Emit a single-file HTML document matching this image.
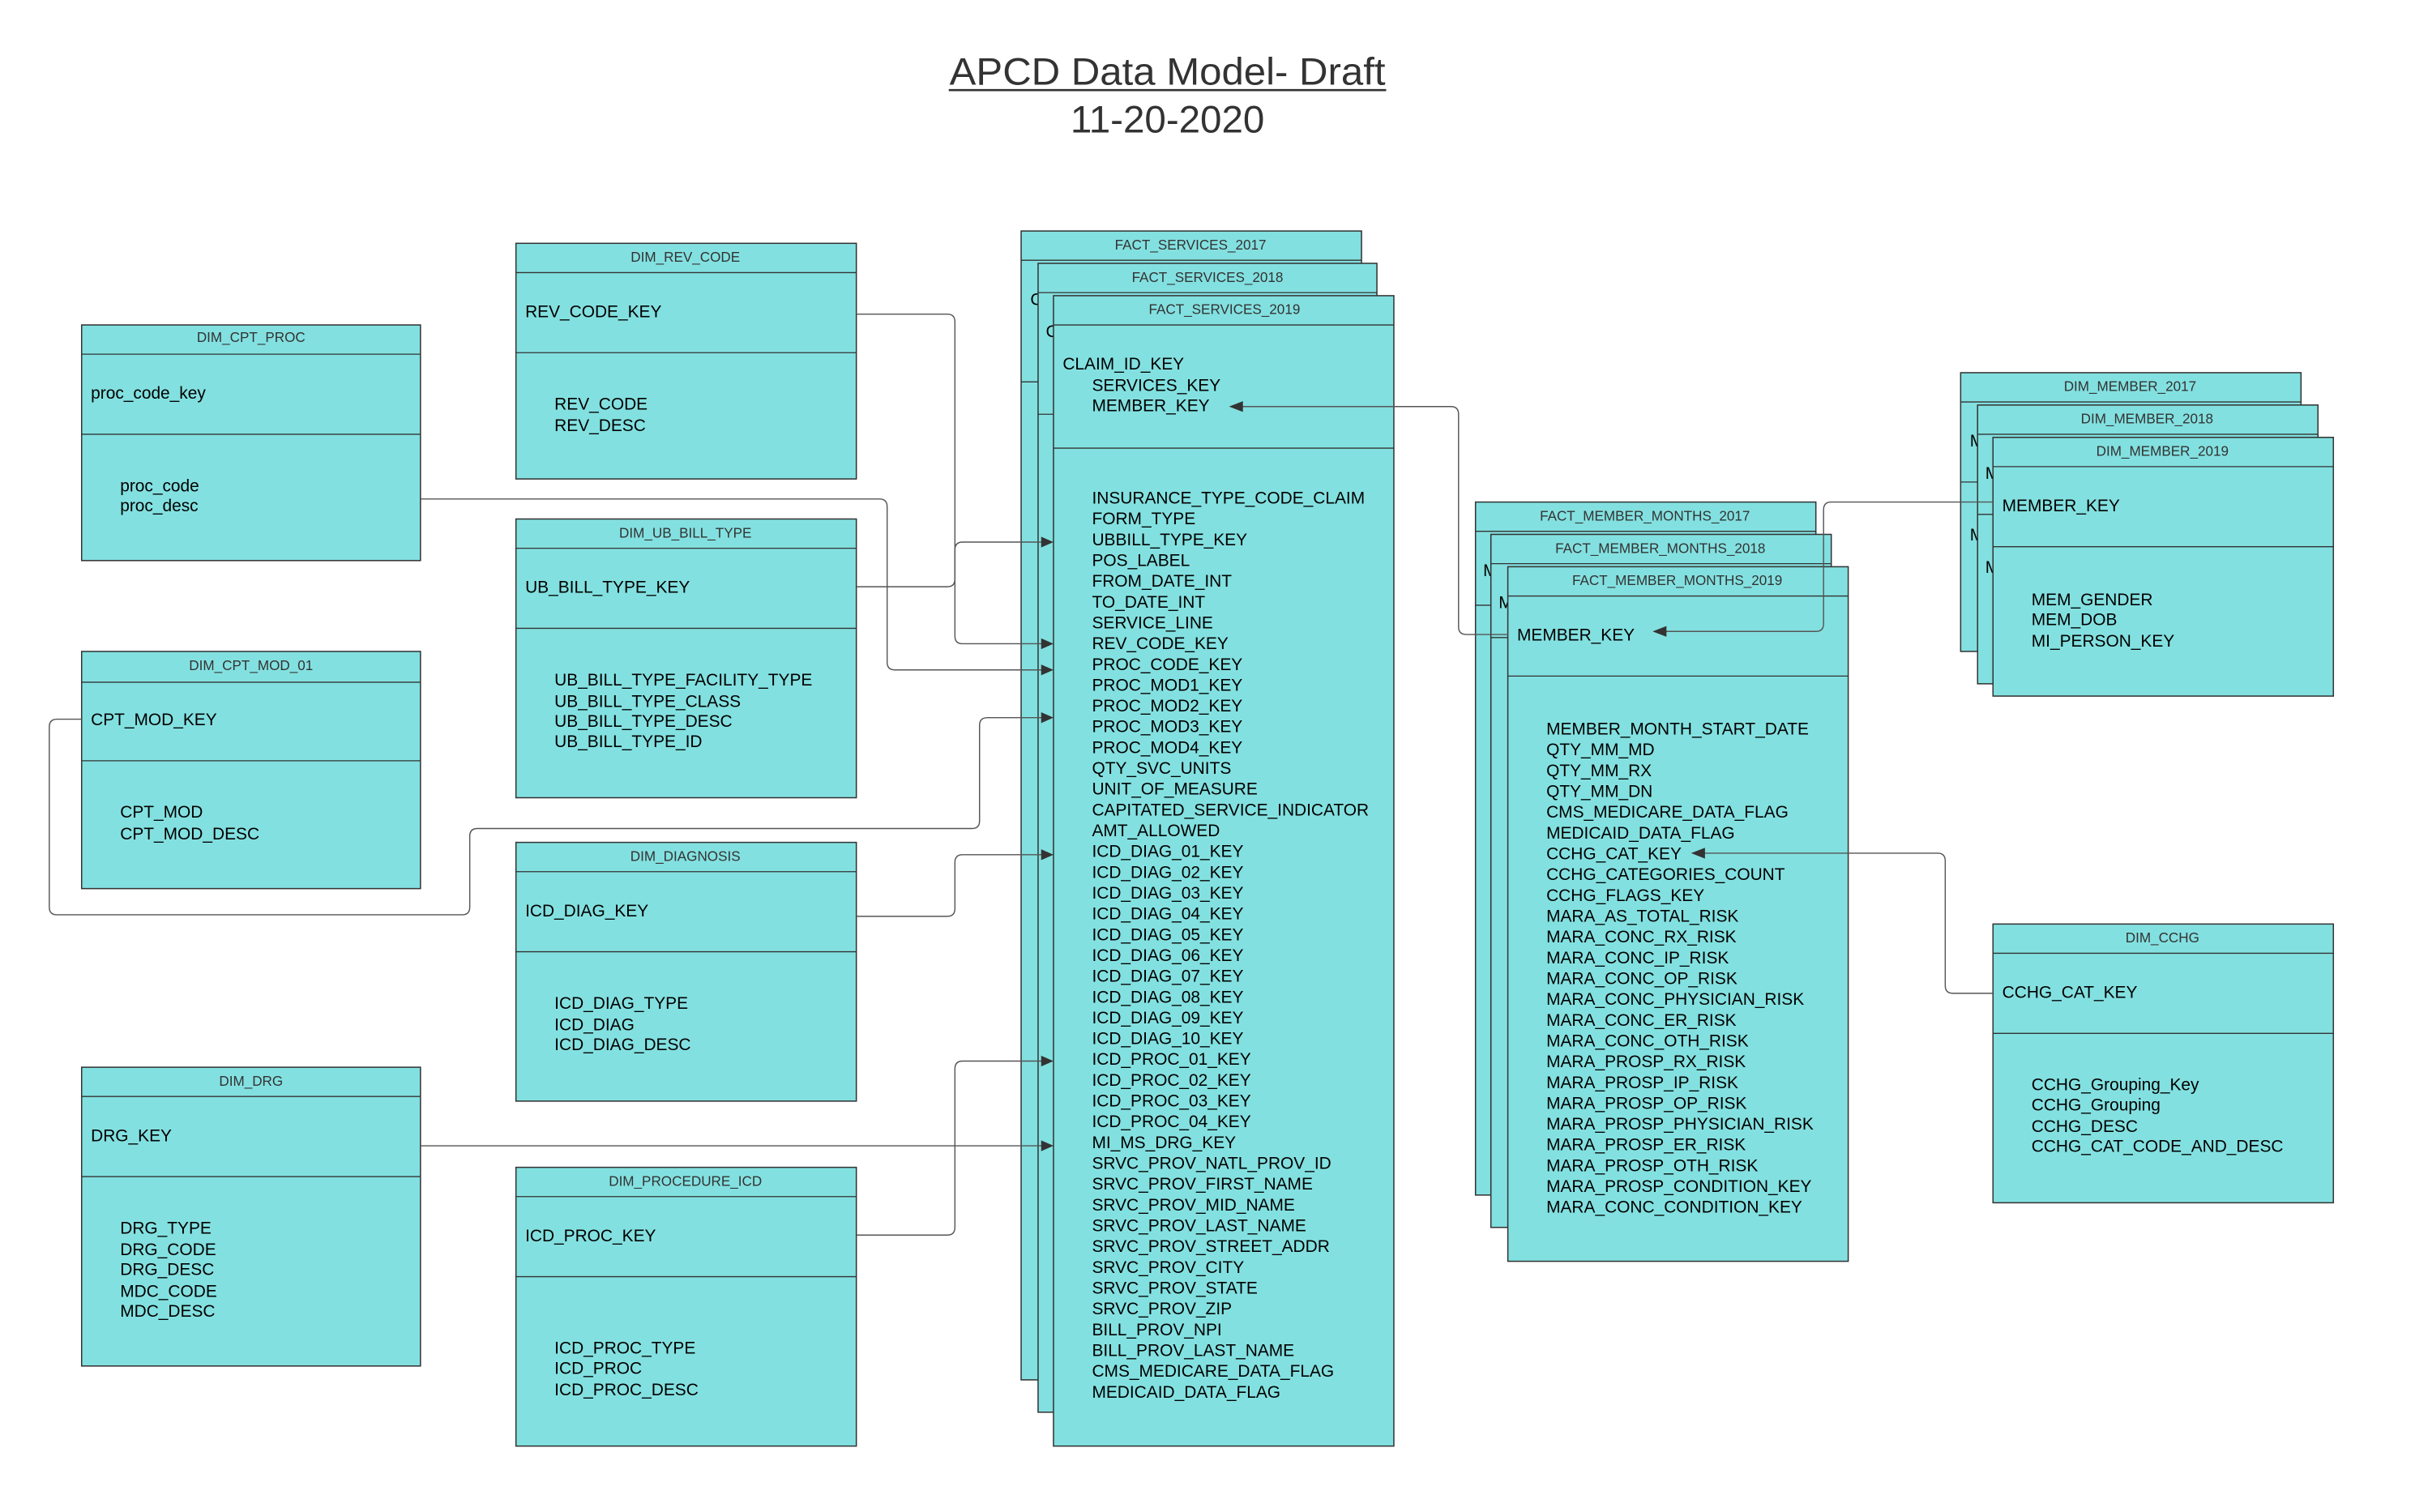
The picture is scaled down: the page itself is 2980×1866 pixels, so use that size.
<!DOCTYPE html>
<html><head><meta charset="utf-8"><style>
html,body{margin:0;padding:0;background:#fff}
svg{display:block}
text{font-family:"Liberation Sans",Arial,sans-serif}
.b{fill:#83E0E0;stroke:#333;stroke-width:0.8}
.d{stroke:#333;stroke-width:0.7}
.h{font-size:9px;fill:#333;text-anchor:middle}
.t{font-size:11px;fill:#000}
.c{fill:none;stroke:#555;stroke-width:0.75}
.a{fill:#333}
</style></head><body>
<svg width="2980" height="1866" viewBox="0 0 1568 981.8" preserveAspectRatio="none" xmlns="http://www.w3.org/2000/svg">
<text x="758" y="55" font-size="25" fill="#333" text-anchor="middle" textLength="283" lengthAdjust="spacingAndGlyphs">APCD Data Model- Draft</text>
<line x1="616" y1="58.5" x2="900" y2="58.5" stroke="#333" stroke-width="1.4"/>
<text x="758" y="86" font-size="25" fill="#333" text-anchor="middle">11-20-2020</text>

<!-- left dims -->
<rect class="b" x="53" y="211" width="220" height="153"/><line class="d" x1="53" y1="230" x2="273" y2="230"/><line class="d" x1="53" y1="282" x2="273" y2="282"/>
<text class="h" x="163" y="222">DIM_CPT_PROC</text>
<text class="t" x="59" y="259">proc_code_key</text>
<text class="t" x="78" y="319">proc_code</text><text class="t" x="78" y="332">proc_desc</text>

<rect class="b" x="53" y="423" width="220" height="154"/><line class="d" x1="53" y1="443" x2="273" y2="443"/><line class="d" x1="53" y1="494" x2="273" y2="494"/>
<text class="h" x="163" y="435">DIM_CPT_MOD_01</text>
<text class="t" x="59" y="471">CPT_MOD_KEY</text>
<text class="t" x="78" y="531">CPT_MOD</text><text class="t" x="78" y="545">CPT_MOD_DESC</text>

<rect class="b" x="53" y="693" width="220" height="194"/><line class="d" x1="53" y1="712" x2="273" y2="712"/><line class="d" x1="53" y1="764" x2="273" y2="764"/>
<text class="h" x="163" y="705">DIM_DRG</text>
<text class="t" x="59" y="741">DRG_KEY</text>
<text class="t" x="78" y="801">DRG_TYPE</text><text class="t" x="78" y="815">DRG_CODE</text><text class="t" x="78" y="828">DRG_DESC</text><text class="t" x="78" y="842">MDC_CODE</text><text class="t" x="78" y="855">MDC_DESC</text>

<!-- middle dims -->
<rect class="b" x="335" y="158" width="221" height="153"/><line class="d" x1="335" y1="177" x2="556" y2="177"/><line class="d" x1="335" y1="229" x2="556" y2="229"/>
<text class="h" x="445" y="170">DIM_REV_CODE</text>
<text class="t" x="341" y="206">REV_CODE_KEY</text>
<text class="t" x="360" y="266">REV_CODE</text><text class="t" x="360" y="280">REV_DESC</text>

<rect class="b" x="335" y="337" width="221" height="181"/><line class="d" x1="335" y1="356" x2="556" y2="356"/><line class="d" x1="335" y1="408" x2="556" y2="408"/>
<text class="h" x="445" y="349">DIM_UB_BILL_TYPE</text>
<text class="t" x="341" y="385">UB_BILL_TYPE_KEY</text>
<text class="t" x="360" y="445">UB_BILL_TYPE_FACILITY_TYPE</text><text class="t" x="360" y="459">UB_BILL_TYPE_CLASS</text><text class="t" x="360" y="472">UB_BILL_TYPE_DESC</text><text class="t" x="360" y="485">UB_BILL_TYPE_ID</text>

<rect class="b" x="335" y="547" width="221" height="168"/><line class="d" x1="335" y1="566" x2="556" y2="566"/><line class="d" x1="335" y1="618" x2="556" y2="618"/>
<text class="h" x="445" y="559">DIM_DIAGNOSIS</text>
<text class="t" x="341" y="595">ICD_DIAG_KEY</text>
<text class="t" x="360" y="655">ICD_DIAG_TYPE</text><text class="t" x="360" y="669">ICD_DIAG</text><text class="t" x="360" y="682">ICD_DIAG_DESC</text>

<rect class="b" x="335" y="758" width="221" height="181"/><line class="d" x1="335" y1="777" x2="556" y2="777"/><line class="d" x1="335" y1="829" x2="556" y2="829"/>
<text class="h" x="445" y="770">DIM_PROCEDURE_ICD</text>
<text class="t" x="341" y="806">ICD_PROC_KEY</text>
<text class="t" x="360" y="879">ICD_PROC_TYPE</text><text class="t" x="360" y="892">ICD_PROC</text><text class="t" x="360" y="906">ICD_PROC_DESC</text>

<!-- fact services -->
<rect class="b" x="663" y="150" width="221" height="746"/><line class="d" x1="663" y1="169" x2="884" y2="169"/><line class="d" x1="663" y1="248" x2="884" y2="248"/>
<text class="h" x="773" y="162">FACT_SERVICES_2017</text><text class="t" x="669" y="198">C</text>
<rect class="b" x="674" y="171" width="220" height="746"/><line class="d" x1="674" y1="190" x2="894" y2="190"/><line class="d" x1="674" y1="269" x2="894" y2="269"/>
<text class="h" x="784" y="183">FACT_SERVICES_2018</text><text class="t" x="679" y="219">C</text>
<rect class="b" x="684" y="192" width="221" height="747"/><line class="d" x1="684" y1="211" x2="905" y2="211"/><line class="d" x1="684" y1="291" x2="905" y2="291"/>
<text class="h" x="795" y="204">FACT_SERVICES_2019</text>
<text class="t" x="690" y="240">CLAIM_ID_KEY</text>
<text class="t" x="709" y="254">SERVICES_KEY</text>
<text class="t" x="709" y="267">MEMBER_KEY</text>
<text class="t" x="709" y="327">INSURANCE_TYPE_CODE_CLAIM</text>
<text class="t" x="709" y="340.5">FORM_TYPE</text>
<text class="t" x="709" y="354">UBBILL_TYPE_KEY</text>
<text class="t" x="709" y="367.5">POS_LABEL</text>
<text class="t" x="709" y="381">FROM_DATE_INT</text>
<text class="t" x="709" y="394.5">TO_DATE_INT</text>
<text class="t" x="709" y="408">SERVICE_LINE</text>
<text class="t" x="709" y="421.5">REV_CODE_KEY</text>
<text class="t" x="709" y="435">PROC_CODE_KEY</text>
<text class="t" x="709" y="448.5">PROC_MOD1_KEY</text>
<text class="t" x="709" y="462">PROC_MOD2_KEY</text>
<text class="t" x="709" y="475.5">PROC_MOD3_KEY</text>
<text class="t" x="709" y="489">PROC_MOD4_KEY</text>
<text class="t" x="709" y="502.5">QTY_SVC_UNITS</text>
<text class="t" x="709" y="516">UNIT_OF_MEASURE</text>
<text class="t" x="709" y="529.5">CAPITATED_SERVICE_INDICATOR</text>
<text class="t" x="709" y="543">AMT_ALLOWED</text>
<text class="t" x="709" y="556.5">ICD_DIAG_01_KEY</text>
<text class="t" x="709" y="570">ICD_DIAG_02_KEY</text>
<text class="t" x="709" y="583.5">ICD_DIAG_03_KEY</text>
<text class="t" x="709" y="597">ICD_DIAG_04_KEY</text>
<text class="t" x="709" y="610.5">ICD_DIAG_05_KEY</text>
<text class="t" x="709" y="624">ICD_DIAG_06_KEY</text>
<text class="t" x="709" y="637.5">ICD_DIAG_07_KEY</text>
<text class="t" x="709" y="651">ICD_DIAG_08_KEY</text>
<text class="t" x="709" y="664.5">ICD_DIAG_09_KEY</text>
<text class="t" x="709" y="678">ICD_DIAG_10_KEY</text>
<text class="t" x="709" y="691.5">ICD_PROC_01_KEY</text>
<text class="t" x="709" y="705">ICD_PROC_02_KEY</text>
<text class="t" x="709" y="718.5">ICD_PROC_03_KEY</text>
<text class="t" x="709" y="732">ICD_PROC_04_KEY</text>
<text class="t" x="709" y="745.5">MI_MS_DRG_KEY</text>
<text class="t" x="709" y="759">SRVC_PROV_NATL_PROV_ID</text>
<text class="t" x="709" y="772.5">SRVC_PROV_FIRST_NAME</text>
<text class="t" x="709" y="786">SRVC_PROV_MID_NAME</text>
<text class="t" x="709" y="799.5">SRVC_PROV_LAST_NAME</text>
<text class="t" x="709" y="813">SRVC_PROV_STREET_ADDR</text>
<text class="t" x="709" y="826.5">SRVC_PROV_CITY</text>
<text class="t" x="709" y="840">SRVC_PROV_STATE</text>
<text class="t" x="709" y="853.5">SRVC_PROV_ZIP</text>
<text class="t" x="709" y="867">BILL_PROV_NPI</text>
<text class="t" x="709" y="880.5">BILL_PROV_LAST_NAME</text>
<text class="t" x="709" y="894">CMS_MEDICARE_DATA_FLAG</text>
<text class="t" x="709" y="907.5">MEDICAID_DATA_FLAG</text>

<!-- fact member months -->
<rect class="b" x="958" y="326" width="221" height="450"/><line class="d" x1="958" y1="345" x2="1179" y2="345"/><line class="d" x1="958" y1="393" x2="1179" y2="393"/>
<text class="h" x="1068" y="338">FACT_MEMBER_MONTHS_2017</text><text class="t" x="963" y="374">M</text>
<rect class="b" x="968" y="347" width="221" height="450"/><line class="d" x1="968" y1="366" x2="1189" y2="366"/><line class="d" x1="968" y1="414" x2="1189" y2="414"/>
<text class="h" x="1078" y="359">FACT_MEMBER_MONTHS_2018</text><text class="t" x="973" y="395">M</text>
<rect class="b" x="979" y="368" width="221" height="451"/><line class="d" x1="979" y1="387" x2="1200" y2="387"/><line class="d" x1="979" y1="439" x2="1200" y2="439"/>
<text class="h" x="1089" y="380">FACT_MEMBER_MONTHS_2019</text>
<text class="t" x="985" y="416">MEMBER_KEY</text>
<text class="t" x="1004" y="477">MEMBER_MONTH_START_DATE</text>
<text class="t" x="1004" y="490.5">QTY_MM_MD</text>
<text class="t" x="1004" y="504">QTY_MM_RX</text>
<text class="t" x="1004" y="517.5">QTY_MM_DN</text>
<text class="t" x="1004" y="531">CMS_MEDICARE_DATA_FLAG</text>
<text class="t" x="1004" y="544.5">MEDICAID_DATA_FLAG</text>
<text class="t" x="1004" y="558">CCHG_CAT_KEY</text>
<text class="t" x="1004" y="571.5">CCHG_CATEGORIES_COUNT</text>
<text class="t" x="1004" y="585">CCHG_FLAGS_KEY</text>
<text class="t" x="1004" y="598.5">MARA_AS_TOTAL_RISK</text>
<text class="t" x="1004" y="612">MARA_CONC_RX_RISK</text>
<text class="t" x="1004" y="625.5">MARA_CONC_IP_RISK</text>
<text class="t" x="1004" y="639">MARA_CONC_OP_RISK</text>
<text class="t" x="1004" y="652.5">MARA_CONC_PHYSICIAN_RISK</text>
<text class="t" x="1004" y="666">MARA_CONC_ER_RISK</text>
<text class="t" x="1004" y="679.5">MARA_CONC_OTH_RISK</text>
<text class="t" x="1004" y="693">MARA_PROSP_RX_RISK</text>
<text class="t" x="1004" y="706.5">MARA_PROSP_IP_RISK</text>
<text class="t" x="1004" y="720">MARA_PROSP_OP_RISK</text>
<text class="t" x="1004" y="733.5">MARA_PROSP_PHYSICIAN_RISK</text>
<text class="t" x="1004" y="747">MARA_PROSP_ER_RISK</text>
<text class="t" x="1004" y="760.5">MARA_PROSP_OTH_RISK</text>
<text class="t" x="1004" y="774">MARA_PROSP_CONDITION_KEY</text>
<text class="t" x="1004" y="787.5">MARA_CONC_CONDITION_KEY</text>

<!-- dim member -->
<rect class="b" x="1273" y="242" width="221" height="181"/><line class="d" x1="1273" y1="261" x2="1494" y2="261"/><line class="d" x1="1273" y1="313" x2="1494" y2="313"/>
<text class="h" x="1383" y="254">DIM_MEMBER_2017</text><text class="t" x="1279" y="290">M</text><text class="t" x="1279" y="351">M</text>
<rect class="b" x="1284" y="263" width="221" height="181"/><line class="d" x1="1284" y1="282" x2="1505" y2="282"/><line class="d" x1="1284" y1="334" x2="1505" y2="334"/>
<text class="h" x="1394" y="275">DIM_MEMBER_2018</text><text class="t" x="1289" y="311">M</text><text class="t" x="1289" y="372">M</text>
<rect class="b" x="1294" y="284" width="221" height="168"/><line class="d" x1="1294" y1="303" x2="1515" y2="303"/><line class="d" x1="1294" y1="355" x2="1515" y2="355"/>
<text class="h" x="1404" y="296">DIM_MEMBER_2019</text>
<text class="t" x="1300" y="332">MEMBER_KEY</text>
<text class="t" x="1319" y="393">MEM_GENDER</text><text class="t" x="1319" y="406">MEM_DOB</text><text class="t" x="1319" y="420">MI_PERSON_KEY</text>

<!-- dim cchg -->
<rect class="b" x="1294" y="600" width="221" height="181"/><line class="d" x1="1294" y1="619" x2="1515" y2="619"/><line class="d" x1="1294" y1="671" x2="1515" y2="671"/>
<text class="h" x="1404" y="612">DIM_CCHG</text>
<text class="t" x="1300" y="648">CCHG_CAT_KEY</text>
<text class="t" x="1319" y="708">CCHG_Grouping_Key</text><text class="t" x="1319" y="721">CCHG_Grouping</text><text class="t" x="1319" y="735">CCHG_DESC</text><text class="t" x="1319" y="748">CCHG_CAT_CODE_AND_DESC</text>

<!-- connectors (on top) -->
<path class="c" d="M556 204 H615 Q620 204 620 209 V413 Q620 418 625 418 H678"/>
<path class="c" d="M556 381 H615 Q620 381 620 376 V357 Q620 352 625 352 H678"/>
<path class="c" d="M273 324 H571 Q576 324 576 329 V430 Q576 435 581 435 H678"/>
<path class="c" d="M53 467 H37 Q32 467 32 472 V589 Q32 594 37 594 H300 Q305 594 305 589 V543 Q305 538 310 538 H631 Q636 538 636 533 V471 Q636 466 641 466 H678"/>
<path class="c" d="M556 595 H615 Q620 595 620 590 V560 Q620 555 625 555 H678"/>
<path class="c" d="M273 744 H678"/>
<path class="c" d="M556 802 H615 Q620 802 620 797 V694 Q620 689 625 689 H678"/>
<g class="a">
<polygon points="684,352 676,348.5 676,355.5"/>
<polygon points="684,418 676,414.5 676,421.5"/>
<polygon points="684,435 676,431.5 676,438.5"/>
<polygon points="684,466 676,462.5 676,469.5"/>
<polygon points="684,555 676,551.5 676,558.5"/>
<polygon points="684,744 676,740.5 676,747.5"/>
<polygon points="684,689 676,685.5 676,692.5"/>
</g>
<path class="c" d="M979 412 H952 Q947 412 947 407 V269 Q947 264 942 264 H806"/>
<polygon class="a" points="798,264 807,260.5 807,267.5"/>
<path class="c" d="M1294 326 H1189 Q1184 326 1184 331 V405 Q1184 410 1179 410 H1081"/>
<polygon class="a" points="1073,410 1082,406.5 1082,413.5"/>
<path class="c" d="M1294 645 H1268 Q1263 645 1263 640 V559 Q1263 554 1258 554 H1106"/>
<polygon class="a" points="1098,554 1107,550.5 1107,557.5"/>
</svg>
</body></html>
